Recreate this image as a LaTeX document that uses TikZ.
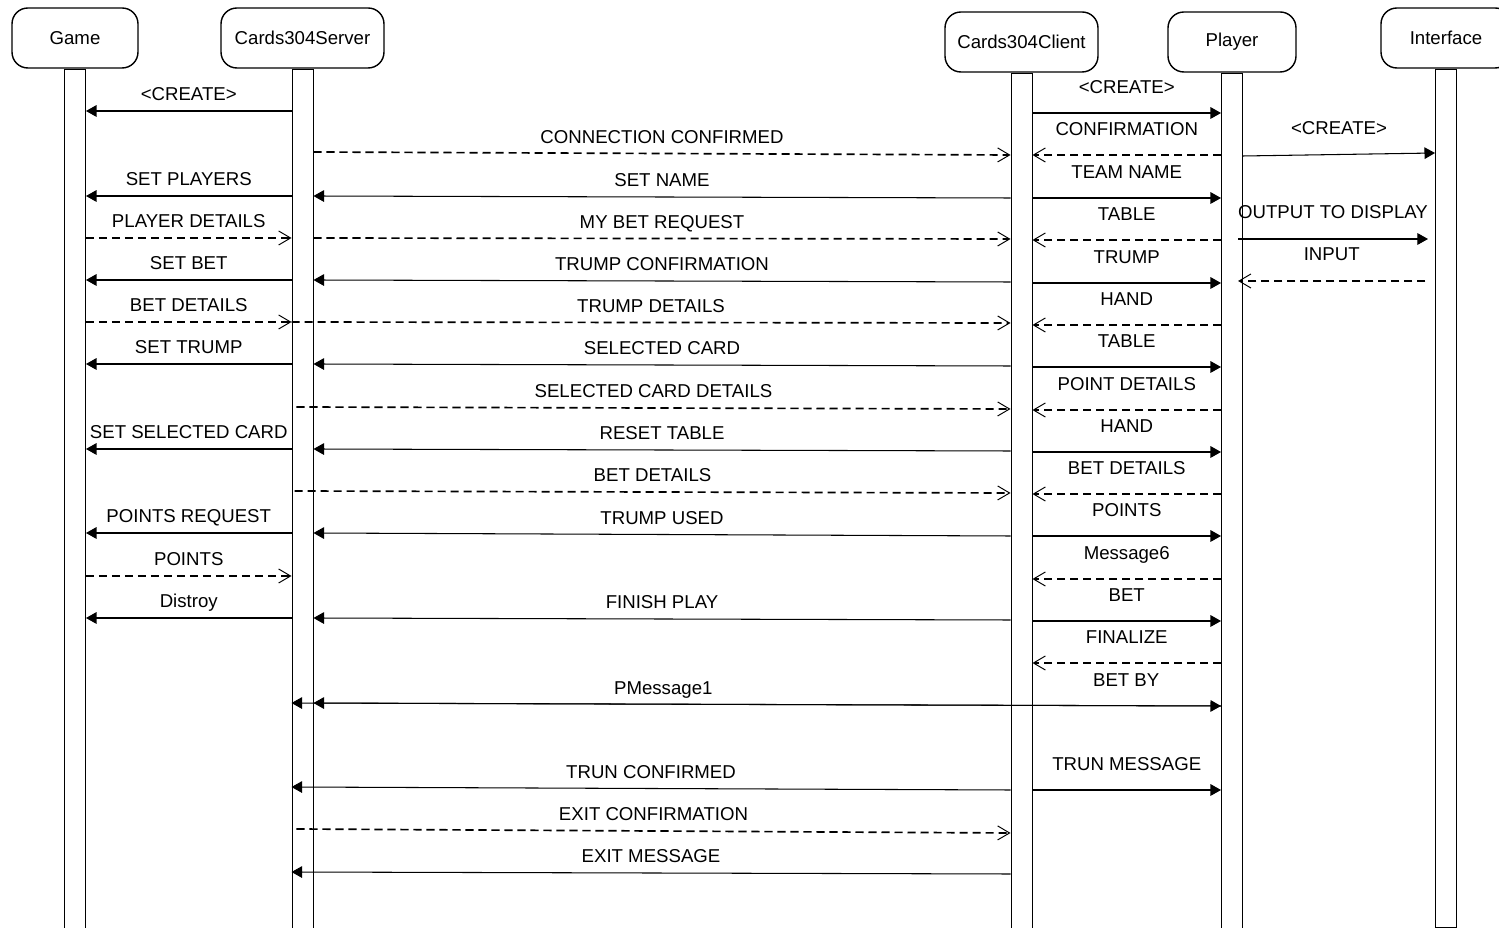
\documentclass[tikz,border=0pt]{standalone}
\usepackage{fontspec}
\setmainfont{Liberation Sans}
\usetikzlibrary{arrows.meta, positioning}

\tikzset{
  actor/.style={draw, rounded corners=9pt, line width=0.8pt, minimum height=1.2cm, inner sep=0pt},
  actbar/.style={draw, line width=0.55pt, minimum width=0.42cm, minimum height=17.6cm, inner sep=0pt},
  call/.style={line width=0.6pt, -{Triangle[length=6pt, width=6.6pt]}},
  reply/.style={line width=0.95pt, dash pattern=on 4.6pt off 2.8pt, -{Straight Barb[line width=0.55pt, length=6.8pt, width=8pt]}},
  txt/.style={anchor=base, inner sep=0pt, yshift=5.8pt},
  txthi/.style={anchor=base, inner sep=0pt, yshift=10.9pt},
  txtup/.style={anchor=base, inner sep=0pt, yshift=11.5pt},
}

\begin{document}
\begin{tikzpicture}[x=0.02cm, y=-0.02cm, font=\fontsize{10.6}{12.7}\selectfont]
\useasboundingbox (0,0) rectangle (1499,928);

% Define the objects
\node[actor, minimum width=2.52cm] (game)   at (75,38)     {Game};
\node[actor, minimum width=3.26cm] (server) at (302.5,38)  {Cards304Server};
\node[actor, minimum width=3.06cm] (client) at (1021.5,42) {Cards304Client};
\node[actor, minimum width=2.56cm] (player) at (1232,42)   {Player};
\node[actor, minimum width=2.6cm]  (iface)  at (1446,38)   {Interface};

% Define the activation bars
\node[actbar, below=0pt of game]   (gameBar)   {};
\node[actbar, below=0pt of server] (serverBar) {};
\node[actbar, below=0pt of client] (clientBar) {};
\node[actbar, below=0pt of player] (playerBar) {};
\node[actbar, minimum height=17.16cm, below=0pt of iface] (ifaceBar) {};

% Game <-> Cards304Server
\draw[call]  (serverBar.west |- 0,111) -- node[txt] {<CREATE>} (gameBar.east |- 0,111);
\draw[call]  (serverBar.west |- 0,196) -- node[txt] {SET PLAYERS} (gameBar.east |- 0,196);
\draw[reply] (gameBar.east |- 0,238) -- node[txt] {PLAYER DETAILS} (serverBar.west |- 0,238);
\draw[call]  (serverBar.west |- 0,280) -- node[txt] {SET BET} (gameBar.east |- 0,280);
\draw[reply] (gameBar.east |- 0,322) -- node[txt] {BET DETAILS} (serverBar.west |- 0,322);
\draw[call]  (serverBar.west |- 0,364) -- node[txt] {SET TRUMP} (gameBar.east |- 0,364);
\draw[call]  (serverBar.west |- 0,449) -- node[txt] {SET SELECTED CARD} (gameBar.east |- 0,449);
\draw[call]  (serverBar.west |- 0,533) -- node[txt] {POINTS REQUEST} (gameBar.east |- 0,533);
\draw[reply] (gameBar.east |- 0,576) -- node[txt] {POINTS} (serverBar.west |- 0,576);
\draw[call]  (serverBar.west |- 0,618) -- node[txt] {Distroy} (gameBar.east |- 0,618);

% Cards304Server <-> Cards304Client
\draw[reply] (serverBar.east |- 0,152) -- node[txt] {CONNECTION CONFIRMED} (clientBar.west |- 0,155);
\draw[call]  (clientBar.west |- 0,198) -- node[txt] {SET NAME} (serverBar.east |- 0,196);
\draw[reply] (serverBar.east |- 0,238) -- node[txt] {MY BET REQUEST} (clientBar.west |- 0,239);
\draw[call]  (clientBar.west |- 0,282) -- node[txt] {TRUMP CONFIRMATION} (serverBar.east |- 0,280);
\draw[reply] (serverBar.west |- 0,322) -- node[txt] {TRUMP DETAILS} (clientBar.west |- 0,323);
\draw[call]  (clientBar.west |- 0,366) -- node[txt] {SELECTED CARD} (serverBar.east |- 0,364);
\draw[reply] ([xshift=2.8pt]serverBar.west |- 0,407) -- node[txt] {SELECTED CARD DETAILS} (clientBar.west |- 0,409);
\draw[call]  (clientBar.west |- 0,451) -- node[txt] {RESET TABLE} (serverBar.east |- 0,449);
\draw[reply] ([xshift=1.7pt]serverBar.west |- 0,491) -- node[txt] {BET DETAILS} (clientBar.west |- 0,493);
\draw[call]  (clientBar.west |- 0,536) -- node[txt] {TRUMP USED} (serverBar.east |- 0,533);
\draw[call]  (clientBar.west |- 0,620) -- node[txt] {FINISH PLAY} (serverBar.east |- 0,618);
\draw[call]  (playerBar.west |- 0,706) -- (serverBar.east |- 0,703);
\draw[{Triangle[length=6pt, width=6.6pt]}-{Triangle[length=6pt, width=6.6pt]}, line width=0.6pt]
  (serverBar.west |- 0,703) -- node[txt, pos=0.4] {PMessage1} node[txthi, pos=0.898] {BET BY} (playerBar.west |- 0,706);
\draw[call]  (clientBar.west |- 0,790) -- node[txt] {TRUN CONFIRMED} (serverBar.west |- 0,787);
\draw[reply] ([xshift=2.8pt]serverBar.west |- 0,829) -- node[txt] {EXIT CONFIRMATION} (clientBar.west |- 0,833);
\draw[call]  (clientBar.west |- 0,874) -- node[txt] {EXIT MESSAGE} (serverBar.west |- 0,872);

% Cards304Client <-> Player
\draw[call]  (clientBar.east |- 0,113) -- node[txthi] {<CREATE>} (playerBar.west |- 0,113);
\draw[reply] (playerBar.west |- 0,155) -- node[txthi] {CONFIRMATION} (clientBar.east |- 0,155);
\draw[call]  (clientBar.east |- 0,198) -- node[txthi] {TEAM NAME} (playerBar.west |- 0,198);
\draw[reply] (playerBar.west |- 0,240) -- node[txthi] {TABLE} (clientBar.east |- 0,240);
\draw[call]  (clientBar.east |- 0,283) -- node[txthi] {TRUMP} (playerBar.west |- 0,283);
\draw[reply] (playerBar.west |- 0,325) -- node[txthi] {HAND} (clientBar.east |- 0,325);
\draw[call]  (clientBar.east |- 0,367) -- node[txthi] {TABLE} (playerBar.west |- 0,367);
\draw[reply] (playerBar.west |- 0,410) -- node[txthi] {POINT DETAILS} (clientBar.east |- 0,410);
\draw[call]  (clientBar.east |- 0,452) -- node[txthi] {HAND} (playerBar.west |- 0,452);
\draw[reply] (playerBar.west |- 0,494) -- node[txthi] {BET DETAILS} (clientBar.east |- 0,494);
\draw[call]  (clientBar.east |- 0,536) -- node[txthi] {POINTS} (playerBar.west |- 0,536);
\draw[reply] (playerBar.west |- 0,579) -- node[txthi] {Message6} (clientBar.east |- 0,579);
\draw[call]  (clientBar.east |- 0,621) -- node[txthi] {BET} (playerBar.west |- 0,621);
\draw[reply] (playerBar.west |- 0,663) -- node[txthi] {FINALIZE} (clientBar.east |- 0,663);
\draw[call]  (clientBar.east |- 0,790) -- node[txthi] {TRUN MESSAGE} (playerBar.west |- 0,790);

% Player <-> Interface
\draw[call]  (playerBar.east |- 0,156) -- node[txtup] {<CREATE>} (ifaceBar.west |- 0,153);
\draw[call]  ([xshift=-2.8pt]playerBar.east |- 0,239) -- node[txtup] {OUTPUT TO DISPLAY} ([xshift=-4pt]ifaceBar.west |- 0,239);
\draw[reply] ([xshift=-5.5pt]ifaceBar.west |- 0,281) -- node[txtup] {INPUT} ([xshift=-2.8pt]playerBar.east |- 0,281);
\end{tikzpicture}
\end{document}
